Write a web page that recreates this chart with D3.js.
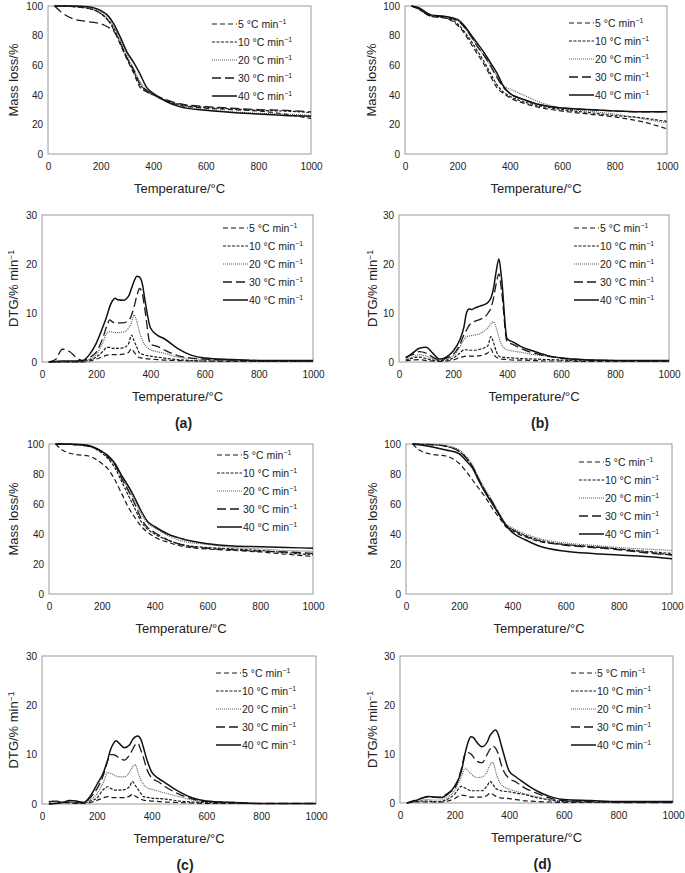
<!DOCTYPE html>
<html>
<head>
<meta charset="utf-8">
<script src="https://cdn.jsdelivr.net/npm/d3@7"></script>
<style>
  body { margin: 0; background: #fff; }
  text { font-family: "Liberation Sans", Arial, Helvetica, sans-serif; fill: #222; }
</style>
</head>
<body>
<div id="chart"></div>
<script>
// heating rates (legend)
var rates = ["5", "10", "20", "30", "40"];

// temperature grids (°C)
var tgTemp = [25, 50, 100, 150, 200, 225, 250, 275, 300, 325, 350, 375, 400, 450, 500, 600, 700, 800, 900, 1000];
var dtgTemp = [25, 50, 75, 100, 125, 150, 175, 200, 225, 240, 250, 260, 270, 280, 300, 320, 330, 340, 350, 360, 370, 380, 400, 425, 450, 500, 550, 600, 700, 800, 900, 1000];

// TG, mass loss/%  -- panel (a)
var tgA5  = [100, 100, 99.5, 98.5, 95, 91, 84, 74, 64, 55, 45, 42, 40, 36, 33, 31, 30, 29, 27, 24];
var tgA10 = [100, 100, 99.5, 98.5, 95, 91, 85, 75, 65, 56, 47, 42, 40, 36, 33.5, 31.5, 30.5, 29.5, 29, 28];
var tgA20 = [100, 100, 99.8, 99, 96, 92, 86, 77, 67, 58, 49, 43, 40, 35.5, 33, 30, 28.5, 27.5, 27, 26];
var tgA30 = [100, 96, 91, 89.5, 88, 86, 83, 75, 65, 57, 47, 43, 40.5, 36.5, 34, 32, 31, 30, 29.5, 28.5];
var tgA40 = [100, 100, 100, 99.5, 97, 94, 88, 79, 69, 62, 54, 45, 41, 35.5, 32, 29.5, 28, 27, 26, 25.5];
// panel (b)
var tgB5  = [100, 98, 93, 92, 87, 82, 75, 68, 61, 53, 45, 41, 38, 34.5, 32, 29, 27, 25, 22, 17];
var tgB10 = [100, 98, 93, 92, 88, 83, 77, 70, 63, 55, 47, 42, 39, 35.5, 33, 30, 28, 26, 24.5, 22];
var tgB20 = [100, 98.5, 93.5, 92.5, 90, 86, 80, 73, 67, 60, 53, 46, 44, 40, 36, 31, 29, 27, 24, 21];
var tgB30 = [100, 98.5, 93.5, 92.5, 90, 86, 80, 73, 67, 60, 52, 45, 41, 37, 34, 31, 30, 29, 28.5, 28.5];
var tgB40 = [100, 99, 94, 93, 91, 87, 81, 75, 69, 62, 55, 46, 41, 37, 34, 31, 30, 29, 28.5, 28.5];
// panel (c)
var tgC5  = [100, 96, 93, 92, 87, 83, 76, 67, 58, 51, 45, 41, 38, 34.5, 32, 30, 29, 28, 26.5, 25];
var tgC10 = [100, 100, 99.5, 98.5, 94, 90, 84, 75, 66, 57, 48, 43, 40, 36, 33, 31, 30, 29, 27.5, 26];
var tgC20 = [100, 100, 99.5, 98.5, 95, 91, 86, 78, 70, 62, 53, 47, 44, 39, 35.5, 33, 31, 30, 29, 28.5];
var tgC30 = [100, 100, 99.5, 98.5, 95, 91, 86, 77, 69, 60, 50, 44, 41, 36, 33, 30.5, 29.5, 28.5, 28, 27];
var tgC40 = [100, 100, 99.8, 99, 95, 92, 87, 79, 72, 64, 55, 48, 45, 40, 37, 33.5, 32, 31.5, 31, 30.5];
// panel (d)
var tgD5  = [100, 96, 93, 92, 87, 82, 76, 70, 64, 57, 51, 45, 42, 38, 35, 33, 31.5, 30, 28, 26];
var tgD10 = [100, 99.8, 99.5, 98.5, 95, 91, 85, 76, 68, 61, 53, 46, 43, 39, 36, 33, 31.5, 30, 28.5, 27];
var tgD20 = [100, 100, 99.8, 99, 96, 92, 86, 77, 69, 62, 54, 47, 44, 40, 37, 34, 32.5, 31, 30, 29];
var tgD30 = [100, 99.8, 99.5, 98.5, 95, 91, 85, 76, 68, 61, 53, 46, 43, 38.5, 35.5, 32.5, 31, 29.5, 27.5, 26];
var tgD40 = [100, 99.5, 98, 96, 93.5, 89, 84, 75, 67, 60, 53, 46, 41, 36, 32, 28.5, 27, 26, 25, 23.5];

// DTG, %/min  -- panel (a)
var dtgA5  = [0, 0, 0, 0, 0, 0, 0.2, 0.6, 1.1, 1.4, 1.5, 1.5, 1.5, 1.5, 1.6, 2.0, 2.7, 2.0, 1.3, 0.9, 0.8, 0.7, 0.6, 0.5, 0.4, 0.3, 0.2, 0.2, 0.1, 0.1, 0.1, 0.1];
var dtgA10 = [0, 0, 0, 0, 0, 0.1, 0.4, 1.0, 2.2, 3.0, 3.0, 2.8, 2.8, 2.8, 2.9, 3.8, 5.5, 4.3, 3.0, 1.8, 1.6, 1.4, 1.2, 1.0, 0.8, 0.5, 0.3, 0.2, 0.2, 0.1, 0.1, 0.1];
var dtgA20 = [0, 0, 0, 0, 0, 0.1, 0.6, 1.5, 4.0, 6.0, 6.2, 6.1, 6.0, 6.0, 6.1, 7.0, 8.0, 9.6, 8.2, 6.0, 4.5, 3.5, 2.5, 2.1, 1.8, 1.0, 0.7, 0.5, 0.3, 0.2, 0.2, 0.1];
var dtgA30 = [0, 0.5, 2.6, 2.2, 1.0, 0.3, 0.9, 2.0, 5.0, 7.5, 8.6, 8.2, 8.0, 8.0, 8.0, 8.5, 9.5, 11.3, 13.5, 15.0, 14.0, 10.6, 3.6, 3.2, 2.5, 1.3, 0.8, 0.6, 0.4, 0.3, 0.2, 0.2];
var dtgA40 = [0, 0.1, 0.2, 0.2, 0.2, 0.3, 1.5, 3.8, 7.2, 9.5, 11.3, 12.5, 13.0, 12.7, 12.6, 13.5, 15.0, 16.5, 17.5, 17.3, 16.0, 12.6, 7.0, 5.5, 4.8, 2.8, 1.4, 0.8, 0.5, 0.3, 0.3, 0.3];
// panel (b)
var dtgB5  = [0.3, 0.4, 0.5, 0.3, 0.2, 0.1, 0.2, 0.4, 0.9, 1.1, 1.2, 1.2, 1.2, 1.2, 1.3, 1.6, 1.9, 2.7, 1.6, 1.0, 0.7, 0.6, 0.5, 0.4, 0.4, 0.3, 0.2, 0.2, 0.1, 0.1, 0.1, 0.1];
var dtgB10 = [0.4, 0.8, 1.0, 0.7, 0.4, 0.3, 0.4, 0.8, 1.8, 2.5, 2.5, 2.4, 2.4, 2.4, 2.6, 3.0, 3.4, 5.2, 4.0, 2.2, 1.2, 1.0, 0.9, 0.8, 0.7, 0.6, 0.5, 0.4, 0.2, 0.2, 0.2, 0.2];
var dtgB20 = [0.5, 1.0, 1.5, 1.2, 0.7, 0.4, 0.7, 1.2, 3.0, 4.5, 5.2, 5.3, 5.4, 5.5, 5.8, 6.5, 7.0, 7.8, 8.2, 7.0, 5.0, 3.5, 2.5, 2.2, 2.0, 1.5, 1.2, 0.9, 0.5, 0.3, 0.2, 0.2];
var dtgB30 = [1.0, 1.5, 2.1, 1.8, 1.0, 0.4, 0.8, 1.5, 3.5, 5.5, 6.5, 7.5, 8.0, 8.3, 8.7, 9.3, 10.0, 11.0, 13.0, 16.0, 18.0, 14.5, 4.2, 3.5, 2.8, 1.8, 1.2, 0.8, 0.4, 0.3, 0.2, 0.2];
var dtgB40 = [0.8, 1.8, 2.8, 3.0, 1.8, 0.6, 1.0, 2.2, 4.5, 7.0, 10.0, 10.8, 10.7, 11.0, 11.4, 11.8, 12.2, 13.0, 15.0, 18.5, 21.0, 17.0, 4.8, 4.0, 3.2, 2.2, 1.3, 0.8, 0.4, 0.3, 0.3, 0.3];
// panel (c)
var dtgC5  = [0.5, 0.6, 0.3, 0.2, 0.1, 0.1, 0.3, 0.7, 1.3, 1.5, 1.4, 1.3, 1.3, 1.3, 1.3, 1.6, 2.0, 1.6, 1.3, 1.0, 0.8, 0.7, 0.6, 0.5, 0.4, 0.3, 0.2, 0.1, 0.1, 0.1, 0.1, 0.1];
var dtgC10 = [0, 0.2, 0.3, 0.3, 0.2, 0.2, 0.6, 1.2, 3.0, 3.5, 3.2, 2.9, 2.8, 2.8, 2.9, 3.6, 4.6, 3.8, 3.0, 2.2, 1.5, 1.4, 1.2, 1.1, 1.0, 0.6, 0.4, 0.3, 0.2, 0.1, 0.1, 0.1];
var dtgC20 = [0, 0.2, 0.3, 0.4, 0.3, 0.2, 0.8, 2.0, 4.5, 6.4, 6.2, 6.0, 5.7, 5.5, 5.5, 6.5, 7.5, 8.0, 6.5, 5.0, 4.0, 3.4, 3.0, 2.6, 2.2, 1.5, 0.8, 0.4, 0.2, 0.1, 0.1, 0.1];
var dtgC30 = [0.4, 0.6, 0.3, 0.4, 0.3, 0.3, 1.2, 3.0, 6.0, 8.8, 10.0, 10.0, 9.8, 9.4, 8.9, 10.0, 11.0, 12.0, 12.3, 11.0, 9.5, 7.5, 5.3, 4.5, 3.5, 2.0, 1.0, 0.5, 0.3, 0.1, 0.1, 0.1];
var dtgC40 = [0, 0.1, 0.3, 0.7, 0.6, 0.3, 1.5, 3.9, 6.5, 9.0, 11.0, 12.2, 12.8, 12.4, 11.4, 12.0, 13.0, 13.6, 13.8, 13.2, 11.5, 9.5, 6.5, 5.2, 4.3, 2.5, 1.2, 0.6, 0.3, 0.1, 0.1, 0.1];
// panel (d)
var dtgD5  = [0, 0.2, 0.2, 0.2, 0.2, 0.2, 0.4, 0.9, 1.6, 1.5, 1.3, 1.2, 1.2, 1.2, 1.2, 1.6, 2.0, 1.8, 1.4, 1.2, 1.0, 1.0, 0.9, 0.7, 0.5, 0.3, 0.2, 0.1, 0.1, 0.1, 0.1, 0.1];
var dtgD10 = [0, 0.3, 0.4, 0.4, 0.3, 0.3, 0.8, 1.8, 3.4, 3.0, 2.7, 2.5, 2.5, 2.5, 2.5, 3.6, 4.4, 3.8, 3.0, 2.7, 2.5, 2.4, 2.3, 2.0, 1.8, 1.1, 0.6, 0.3, 0.2, 0.1, 0.1, 0.1];
var dtgD20 = [0, 0.4, 0.6, 0.7, 0.6, 0.6, 1.2, 2.5, 5.5, 7.1, 6.5, 6.0, 5.5, 5.2, 5.3, 6.5, 7.8, 8.3, 6.5, 4.8, 3.8, 3.3, 2.8, 2.4, 2.0, 1.3, 0.7, 0.4, 0.2, 0.1, 0.1, 0.1];
var dtgD30 = [0, 0.5, 0.9, 1.2, 1.2, 1.2, 2.0, 3.0, 7.0, 10.2, 10.3, 10.0, 9.3, 8.6, 8.2, 10.0, 11.0, 11.6, 11.2, 10.0, 8.0, 6.5, 5.0, 4.3, 3.3, 2.0, 1.0, 0.5, 0.3, 0.1, 0.1, 0.1];
var dtgD40 = [0, 0.3, 0.9, 1.35, 1.2, 1.1, 1.8, 3.4, 6.5, 10.5, 12.5, 13.5, 13.3, 12.5, 11.5, 12.5, 13.8, 14.5, 14.9, 14.0, 12.0, 10.0, 6.5, 5.3, 4.3, 2.5, 1.3, 0.7, 0.5, 0.3, 0.3, 0.3];

var xTicks = [0, 200, 400, 600, 800, 1000];
var tgTicks = [0, 20, 40, 60, 80, 100];
var dtgTicks = [0, 10, 20, 30];

// line styles for 5,10,20,30,40 °C/min
var styles = [
  {dash: "5,3", width: 1.2, color: "#1a1a1a"},
  {dash: "3,1.5", width: 1.2, color: "#1a1a1a"},
  {dash: "1,1", width: 1.1, color: "#555"},
  {dash: "9,4", width: 1.3, color: "#1a1a1a"},
  {dash: null, width: 1.5, color: "#111"}
];

var panels = [
  {temps: tgTemp, series: [tgA5, tgA10, tgA20, tgA30, tgA40], x0: 48, x1: 311, y0: 6, y1: 154, max: 100, ticks: tgTicks, tg: true, legX: 212, legY: 24, ylabX: 13},
  {temps: tgTemp, series: [tgB5, tgB10, tgB20, tgB30, tgB40], x0: 405, x1: 667, y0: 6, y1: 154, max: 100, ticks: tgTicks, tg: true, legX: 569, legY: 23, ylabX: 371},
  {temps: dtgTemp, series: [dtgA5, dtgA10, dtgA20, dtgA30, dtgA40], x0: 42, x1: 313, y0: 215, y1: 362, max: 30, ticks: dtgTicks, tg: false, legX: 223, legY: 228, ylabX: 13, tag: "(a)"},
  {temps: dtgTemp, series: [dtgB5, dtgB10, dtgB20, dtgB30, dtgB40], x0: 399, x1: 669, y0: 215, y1: 362, max: 30, ticks: dtgTicks, tg: false, legX: 574, legY: 228, ylabX: 372, tag: "(b)"},
  {temps: tgTemp, series: [tgC5, tgC10, tgC20, tgC30, tgC40], x0: 49, x1: 313, y0: 444, y1: 594, max: 100, ticks: tgTicks, tg: true, legX: 217, legY: 455, ylabX: 13},
  {temps: tgTemp, series: [tgD5, tgD10, tgD20, tgD30, tgD40], x0: 406, x1: 672, y0: 444, y1: 594, max: 100, ticks: tgTicks, tg: true, legX: 579, legY: 462, ylabX: 372},
  {temps: dtgTemp, series: [dtgC5, dtgC10, dtgC20, dtgC30, dtgC40], x0: 42, x1: 316, y0: 656, y1: 804, max: 30, ticks: dtgTicks, tg: false, legX: 216, legY: 673, ylabX: 13, tag: "(c)"},
  {temps: dtgTemp, series: [dtgD5, dtgD10, dtgD20, dtgD30, dtgD40], x0: 400, x1: 673, y0: 656, y1: 803, max: 30, ticks: dtgTicks, tg: false, legX: 571, legY: 673, ylabX: 372, tag: "(d)"}
];

var svg = d3.select("#chart").append("svg")
  .attr("width", 685)
  .attr("height", 873);

panels.forEach(function(p) {
  var x = d3.scaleLinear().domain([0, 1000]).range([p.x0, p.x1]);
  var y = d3.scaleLinear().domain([0, p.max]).range([p.y1, p.y0]);
  var g = svg.append("g");

  // plot frame
  g.append("rect")
    .attr("x", p.x0).attr("y", p.y0)
    .attr("width", p.x1 - p.x0).attr("height", p.y1 - p.y0)
    .attr("fill", "none").attr("stroke", "#9a9a9a").attr("stroke-width", 1);

  // x axis
  var xa = g.append("g")
    .attr("transform", "translate(0," + p.y1 + ")")
    .call(d3.axisBottom(x).tickValues(xTicks).tickFormat(d3.format("d")).tickSize(0).tickPadding(9));
  xa.select(".domain").remove();
  xa.selectAll("text").style("font-size", "10px").style("fill", "#222").style("font-family", "Liberation Sans, Arial, sans-serif");

  // y axis
  var ya = g.append("g")
    .attr("transform", "translate(" + p.x0 + ",0)")
    .call(d3.axisLeft(y).tickValues(p.ticks).tickFormat(d3.format("d")).tickSize(0).tickPadding(5));
  ya.select(".domain").remove();
  ya.selectAll("text").style("font-size", "10px").style("fill", "#222").style("font-family", "Liberation Sans, Arial, sans-serif");

  // curves
  var line = d3.line()
    .x(function(d) { return x(d[0]); })
    .y(function(d) { return y(d[1]); })
    .curve(d3.curveMonotoneX);

  p.series.forEach(function(vals, i) {
    var pts = p.temps.map(function(t, k) { return [t, vals[k]]; });
    g.append("path")
      .datum(pts)
      .attr("fill", "none")
      .attr("stroke", styles[i].color)
      .attr("stroke-width", styles[i].width)
      .attr("stroke-dasharray", styles[i].dash)
      .attr("d", line);
  });

  // legend
  rates.forEach(function(r, i) {
    var ly = p.legY + i * 18;
    g.append("line")
      .attr("x1", p.legX).attr("x2", p.legX + 25)
      .attr("y1", ly).attr("y2", ly)
      .attr("stroke", styles[i].color)
      .attr("stroke-width", styles[i].width)
      .attr("stroke-dasharray", styles[i].dash);
    var t = g.append("text")
      .attr("x", p.legX + 26).attr("y", ly + 4)
      .style("font-size", "10.5px");
    t.append("tspan").text(r + " °C min");
    t.append("tspan").attr("dy", -4).style("font-size", "7px").text("−1");
  });

  // axis titles
  g.append("text")
    .attr("x", (p.x0 + p.x1) / 2).attr("y", p.y1 + 39)
    .attr("text-anchor", "middle")
    .style("font-size", "13px")
    .text("Temperature/°C");

  var yt = g.append("text")
    .attr("transform", "translate(" + p.ylabX + "," + ((p.y0 + p.y1) / 2) + ") rotate(-90)")
    .attr("text-anchor", "middle")
    .attr("dy", "0.35em")
    .style("font-size", "13px");
  if (p.tg) {
    yt.text("Mass loss/%");
  } else {
    yt.append("tspan").text("DTG/% min");
    yt.append("tspan").attr("dy", "-0.45em").style("font-size", "8.5px").text("−1");
  }

  // sub-figure tag
  if (p.tag) {
    g.append("text")
      .attr("x", (p.x0 + p.x1) / 2 + 6).attr("y", p.y1 + 66)
      .attr("text-anchor", "middle")
      .style("font-size", "14px").style("font-weight", "bold")
      .text(p.tag);
  }
});
</script>
</body>
</html>
